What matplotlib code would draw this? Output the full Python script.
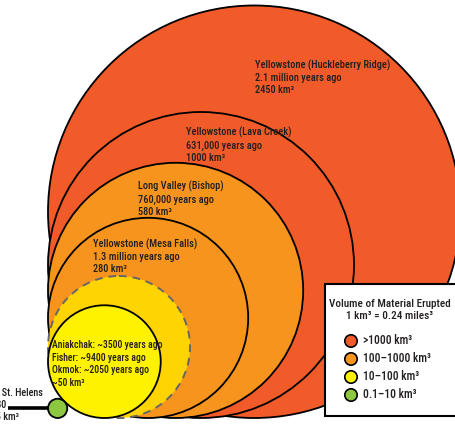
"""Nested circles comparing erupted volumes of large eruptions"""

import numpy as np
import matplotlib.pyplot as plt
from matplotlib.patches import Circle, Rectangle

plt.rcParams['font.family'] = ['Roboto Condensed', 'Liberation Sans Narrow',
                               'DejaVu Sans']
plt.rcParams['font.stretch'] = 'condensed'
plt.rcParams['font.weight'] = 'medium'

# eruptions, largest first (volume in km3)
names = ["Yellowstone (Huckleberry Ridge)", "Yellowstone (Lava Creek)",
         "Long Valley (Bishop)", "Yellowstone (Mesa Falls)",
         "100 km3 boundary", "Aniakchak / Fisher / Okmok",
         "Mount St. Helens"]
volumes = [2450, 1000, 580, 280, 100, 50, 0.25]
fills = ["#F15A29", "#F15A29", "#F7941D", "#F7941D", "#FFD400", "#FFF200",
         "#8DC63F"]
dashed = [False, False, False, False, True, False, False]

labels = [
    "Yellowstone (Huckleberry Ridge)\n2.1 million years ago\n2450 km³",
    "Yellowstone (Lava Creek)\n631,000 years ago\n1000 km³",
    "Long Valley (Bishop)\n760,000 years ago\n580 km³",
    "Yellowstone (Mesa Falls)\n1.3 million years ago\n280 km³",
    None,
    "Aniakchak: ~3500 years ago\nFisher: ~9400 years ago\n"
    "Okmok: ~2050 years ago\n~50 km³",
    None,
]
label_xy = [(255, 77), (186, 145), (138, 199), (93, 256), None, (52, 364),
            None]

legend_labels = [">1000 km³", "100–1000 km³", "10–100 km³", "0.1–10 km³"]
legend_colors = ["#F15A29", "#F7941D", "#FFF200", "#8DC63F"]

text_color = "#231F20"

# circles sit in the lower left corner, radius from the cube root (spheres)
corner_x, corner_y = 48, 418
scale = 15.3

fig = plt.figure(figsize=(4.56, 4.26), dpi=100)
ax = fig.add_axes([0, 0, 1, 1])
ax.set_xlim(0, 456)
ax.set_ylim(426, 0)
ax.axis('off')

radii = scale * np.cbrt(np.array(volumes))
centers = [(corner_x + r, corner_y - r) for r in radii]

for i, (r, c) in enumerate(zip(radii, centers)):
    if names[i] == "Mount St. Helens":
        # leader line to the tiny circle
        ax.plot([8, c[0]], [c[1], c[1]], color="black", lw=2.6,
                solid_capstyle='butt', zorder=9)
        zo = 10
    else:
        zo = 2 + i
    if dashed[i]:
        ax.add_patch(Circle(c, r, facecolor=fills[i], edgecolor="#666666",
                            lw=1.4, linestyle=(0, (4, 3)), zorder=zo))
    else:
        ax.add_patch(Circle(c, r, facecolor=fills[i], edgecolor="black",
                            lw=1.3, zorder=zo))
    if labels[i] is not None:
        if i == 5:
            size, ls = 7.0, 1.35
        else:
            size, ls = 7.5, 1.27
        ax.text(label_xy[i][0], label_xy[i][1], labels[i], fontsize=size,
                color=text_color, ha='left', va='center', linespacing=ls,
                zorder=20)

# St. Helens text runs off the left edge
ax.text(43, 393, "Mount St. Helens", fontsize=7.3, color=text_color,
        ha='right', va='center', zorder=20)
ax.text(6, 405, "1980", fontsize=7.3, color=text_color,
        ha='right', va='center', zorder=20)
ax.text(19, 417, "0.25 km³", fontsize=7.3, color=text_color,
        ha='right', va='center', zorder=20)

# legend box
ax.add_patch(Rectangle((325, 284), 140, 132, facecolor="white",
                       edgecolor="black", lw=1.5, zorder=30))
ax.text(390, 304, "Volume of Material Erupted", fontsize=8.0,
        color=text_color, ha='center', va='center', zorder=31)
ax.text(390, 316, "1 km³ = 0.24 miles³", fontsize=8.0,
        color=text_color, ha='center', va='center', zorder=31)
for j, (lab, col) in enumerate(zip(legend_labels, legend_colors)):
    yy = 341 + j * 18
    ax.add_patch(Circle((351, yy), 6.2, facecolor=col, edgecolor="black",
                        lw=1.2, zorder=31))
    ax.text(363, yy, lab, fontsize=8.3, color=text_color, ha='left',
            va='center', zorder=31)

fig.savefig("out.png", dpi=100)
